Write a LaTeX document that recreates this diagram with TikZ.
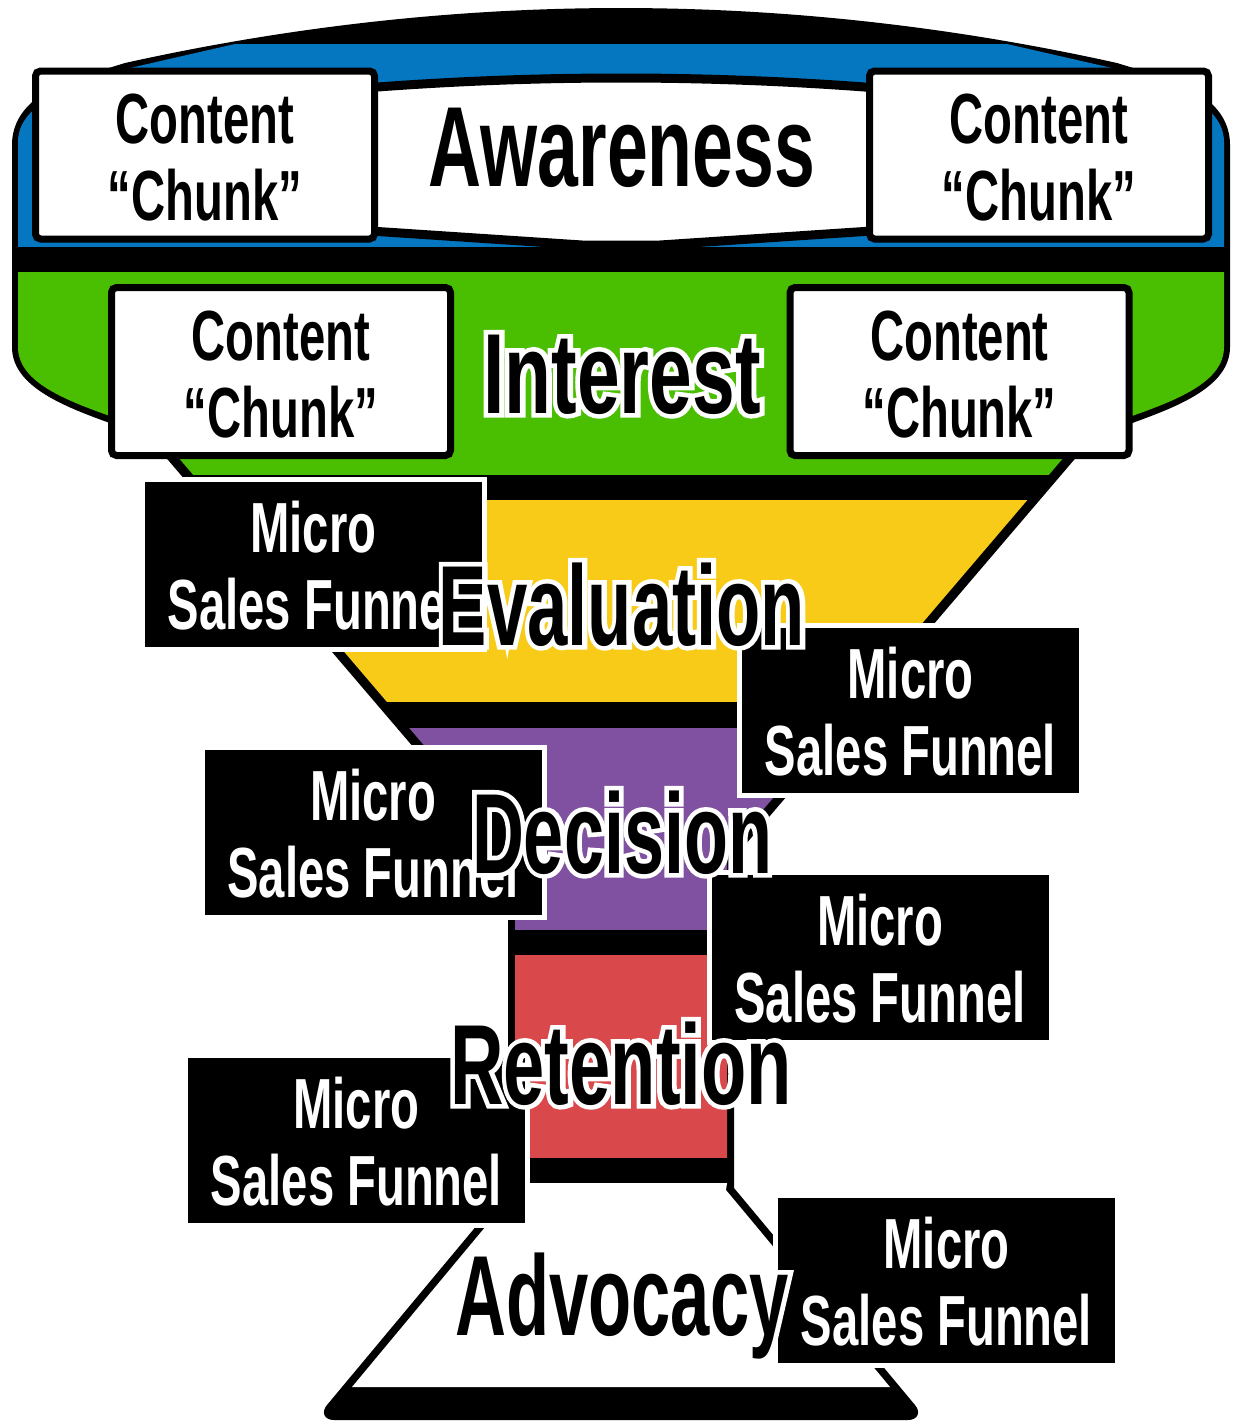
\documentclass[tikz,border=0pt]{standalone}
\usepackage{graphicx}
\usepackage{fontspec}
\setmainfont{Liberation Sans}
\newfontfamily\chunkfont{Liberation Sans}[FakeStretch=0.665]
\newfontfamily\stagefont{Liberation Sans}[FakeStretch=0.625]
\newfontfamily\stageolfont{Liberation Sans}[FakeStretch=0.625, FakeBold=8]
\definecolor{cBlue}{RGB}{4,119,192}
\definecolor{cGreen}{RGB}{74,190,0}
\definecolor{cYellow}{RGB}{247,203,24}
\definecolor{cPurple}{RGB}{127,81,160}
\definecolor{cRed}{RGB}{217,72,74}
\tikzset{
  chunkbox/.style={draw=black, fill=white, line width=7pt, rounded corners=5pt,
    minimum width=339pt, minimum height=168pt, inner sep=0pt, outer sep=0pt},
  microbox/.style={draw=white, fill=black, line width=5pt,
    minimum width=342pt, minimum height=170pt, inner sep=0pt, outer sep=0pt},
  chunktxt/.style={font=\chunkfont\bfseries\fontsize{71}{71}\selectfont, text=black,
    anchor=base, inner sep=0pt},
  microtxt/.style={chunktxt, text=white},
  stagetxt/.style={font=\stagefont\bfseries\fontsize{114}{114}\selectfont,
    text=black, anchor=base, inner sep=0pt},
  stageol/.style={font=\stageolfont\bfseries\fontsize{114}{114}\selectfont,
    text=white, anchor=base, inner sep=0pt},
}
\newcommand\mkchunk[3]{%
  \node[chunkbox] (#1) at (#2,#3) {};
  \node[chunktxt] (#1-a) at (#2,{#3-11.5}) {Content};
  \node[chunktxt] (#1-b) at (#2,{#3+65.5}) {“Chunk”};
}
\newcommand\mkmicro[3]{%
  \node[microbox] (#1) at (#2,#3) {};
  \node[microtxt] (#1-a) at (#2,{#3-12.5}) {Micro};
  \node[microtxt] (#1-b) at (#2,{#3+64.5}) {Sales Funnel};
}
\newcommand\mkstage[5]{%
  \node[stageol] (#1-ol) at (#2,#3) {\scalebox{#4}[1]{#5}};
  \node[stagetxt] (#1) at (#2,#3) {\scalebox{#4}[1]{#5}};
}
\begin{document}
\begin{tikzpicture}[x=1pt, y=-1pt]
\useasboundingbox (0,0) rectangle (1233,1422);
\fill[white] (0,0) rectangle (1233,1422);
% outer black silhouette
\fill[black] (12,347) -- (12,145) .. controls (12,112) and (38,93) .. (70,80)
  -- (125,63) .. controls (455.7,-10.3) and (786.3,-10.3) .. (1117,63)
  -- (1172,80) .. controls (1204,93) and (1230,112) .. (1230,145)
  -- (1230,347) .. controls (1230,385) and (1182,405) .. (1135,422)
  -- (1091,440) -- (734,858) -- (734,1188)
  -- (915,1405) .. controls (921,1412) and (918,1420) .. (908,1420)
  -- (334,1420) .. controls (324,1420) and (321,1412) .. (327,1405)
  -- (508,1188) -- (508,858) -- (151,440) -- (107,422)
  .. controls (60,405) and (12,385) .. (12,347) -- cycle;
% coloured bands
\begin{scope}
  \clip (18,347) -- (18,142) .. controls (18,116) and (42,100) .. (72,88)
    -- (130,68) -- (235,44) -- (1007,44) -- (1112,68)
    -- (1170,88) .. controls (1200,100) and (1224,116) .. (1224,142)
    -- (1224,347) .. controls (1224,381) and (1180,399) .. (1132,416)
    -- (1082,436) -- (727,852) -- (727,1160) -- (515,1160) -- (515,852)
    -- (160,436) -- (110,416) .. controls (62,399) and (18,381) .. (18,347) -- cycle;
  \fill[cBlue] (0,0) rectangle (1242,247);
  \fill[cGreen] (0,272) rectangle (1242,475);
  \fill[cYellow] (0,500) rectangle (1242,702);
  \fill[cPurple] (0,728) rectangle (1242,930);
  \fill[cRed] (0,955) rectangle (1242,1158);
\end{scope}
% advocacy white interior
\fill[white] (515,1183) -- (516,1190) -- (352,1387) -- (890,1387) -- (726,1190) -- (727,1183) -- cycle;
% awareness lens
\draw[fill=white, line width=9pt, line join=round] (340,90) .. controls (527.3,74) and (714.7,74) .. (902,90)
  -- (902,229) -- (660,245) -- (582,245) -- (340,229) -- cycle;
% content chunks
\mkchunk{chA1}{205}{155}
\mkchunk{chA2}{1039}{155}
\mkchunk{chI1}{281}{371.5}
\mkchunk{chI2}{959.5}{371.5}
% micro sales funnels
\mkmicro{ms1}{313.5}{564.5}
\mkmicro{ms2}{910.5}{710.5}
\mkmicro{ms3}{373}{832.5}
\mkmicro{ms4}{880}{957.5}
\mkmicro{ms5}{356.5}{1140.5}
\mkmicro{ms6}{946.5}{1280.5}
% stage labels
\mkstage{lAware}{622}{186}{1.03}{Awareness}
\mkstage{lInterest}{622}{413}{1.077}{Interest}
\mkstage{lEval}{622}{645}{1.017}{Evaluation}
\mkstage{lDecision}{622}{873}{1.01}{Decision}
\mkstage{lRetention}{621}{1104}{1.04}{Retention}
\mkstage{lAdvocacy}{622}{1335}{0.99}{Advocacy}
\end{tikzpicture}
\end{document}
